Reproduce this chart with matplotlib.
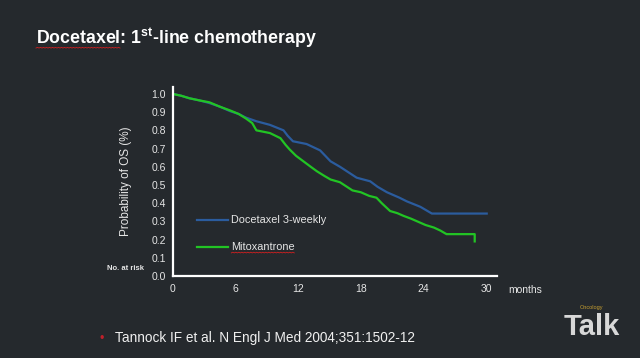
import matplotlib
matplotlib.use("Agg")
import matplotlib.pyplot as plt
import numpy as np

plt.rcParams["mathtext.fontset"] = "custom"
plt.rcParams["mathtext.rm"] = "Liberation Sans"
plt.rcParams["mathtext.bf"] = "Liberation Sans:bold"

# ---- data ----
doc_t = [0, 0.8, 1.6, 2.5, 3.5, 4.5, 5.5, 6.3, 7.0, 8.0, 9.3, 10.6, 11.0, 11.5, 12.8,
         14.1, 15.1, 16.0, 16.8, 17.6, 18.9, 19.6, 20.5, 21.7, 22.4, 23.7, 24.8, 30.05]
doc_s = [1.0, 0.99, 0.976, 0.965, 0.95, 0.93, 0.905, 0.89, 0.87, 0.85, 0.83, 0.80, 0.77,
         0.74, 0.725, 0.69, 0.63, 0.60, 0.57, 0.54, 0.52, 0.49, 0.46, 0.43, 0.41, 0.38,
         0.343, 0.343]

mit_t = [0, 0.8, 1.6, 2.5, 3.5, 4.5, 5.5, 6.3, 7.0, 7.6, 8.0, 9.3, 10.3, 10.8, 11.2,
         11.8, 12.5, 13.2, 13.8, 14.5, 15.1, 16.0, 17.2, 18.0, 18.8, 19.5, 20.0, 20.8,
         21.5, 22.1, 22.8, 23.4, 24.2, 25.0, 25.6, 26.2, 28.9, 28.9]
mit_s = [1.0, 0.99, 0.976, 0.965, 0.954, 0.93, 0.909, 0.89, 0.865, 0.84, 0.80, 0.785,
         0.757, 0.72, 0.694, 0.66, 0.63, 0.60, 0.575, 0.55, 0.53, 0.515, 0.47, 0.46,
         0.44, 0.43, 0.40, 0.357, 0.345, 0.33, 0.315, 0.30, 0.28, 0.266, 0.25, 0.23, 0.23,
         0.19]

series_names = ["Docetaxel 3-weekly", "Mitoxantrone"]
x_ticks = [0, 6, 12, 18, 24, 30]
y_ticks = [round(0.1 * i, 1) for i in range(11)]

BG = "#25292d"
BLUE = "#2b5c9e"
GREEN = "#22c424"
TXT = "#e6e6e6"
FONT = "Liberation Sans"

fig = plt.figure(figsize=(6.4, 3.58), dpi=100, facecolor=BG)
ax = fig.add_axes([0.270, 0.229, 0.506, 0.529])
ax.set_facecolor(BG)

ax.plot(doc_t, doc_s, color=BLUE, lw=1.6)
ax.plot(mit_t, mit_s, color=GREEN, lw=1.6)

ax.set_xlim(0, 31)
ax.set_ylim(0, 1.04)
ax.set_xticks(x_ticks)
ax.set_yticks(y_ticks)
ax.set_yticklabels([f"{v:.1f}" for v in y_ticks])
for s in ["top", "right"]:
    ax.spines[s].set_visible(False)
for s in ["left", "bottom"]:
    ax.spines[s].set_color("white")
    ax.spines[s].set_linewidth(1.6)
ax.tick_params(colors=TXT, labelsize=7.5, length=0, pad=6)
ax.tick_params(axis="y", pad=5)
for lab in ax.get_xticklabels() + ax.get_yticklabels():
    lab.set_fontfamily(FONT)
ax.set_ylabel("Probability of OS (%)", color=TXT, fontsize=8.5, fontfamily=FONT, labelpad=14)

# in-plot legend
ax.plot([2.3, 5.3], [0.31, 0.31], color=BLUE, lw=1.6)
ax.text(5.6, 0.31, series_names[0], color=TXT, fontsize=7.8, fontfamily=FONT, va="center")
ax.plot([2.3, 5.3], [0.157, 0.157], color=GREEN, lw=1.6)
mit_lab = ax.text(5.6, 0.157, series_names[1], color=TXT, fontsize=7.8, fontfamily=FONT,
                  va="center")

fig.text(107 / 640, 1 - 268 / 358, "No. at risk", color=TXT, fontsize=5.5,
         fontweight="bold", fontfamily=FONT, va="center")
fig.text(508 / 640, 1 - 290 / 358, "months", color=TXT, fontsize=7.5,
         fontfamily=FONT, va="center")

TITLE_FS = 12.8
title = fig.text(36 / 640, 1 - 38 / 358, "Docetaxel: 1$^{\\mathbf{st}}$-line chemotherapy",
                 color="white", fontsize=TITLE_FS, fontweight="bold", fontfamily=FONT,
                 va="center")

# citation
fig.text(102 / 640, 1 - 339 / 358, "\u2022", color="#c0202a", fontsize=9, va="center",
         ha="center", fontfamily=FONT)
fig.text(115 / 640, 1 - 338 / 358, "Tannock IF et al. N Engl J Med 2004;351:1502-12",
         color="#f0f0f0", fontsize=9.8, fontfamily=FONT, va="center")

# logo
fig.text(592 / 640, 1 - 327 / 358, "Talk", color="#d8d8d8", fontsize=21,
         fontweight="bold", fontfamily=FONT, va="center", ha="center")
fig.text(592 / 640, 1 - 308 / 358, "Oncology", color="#c8a030", fontsize=4,
         fontfamily=FONT, va="center", ha="center")

# red spell-check squiggles
fig.canvas.draw()
r = fig.canvas.get_renderer()
tmp = fig.text(36 / 640, 0.5, "Docetaxel", fontsize=TITLE_FS, fontweight="bold",
               fontfamily=FONT)
bb_word = tmp.get_window_extent(r)
tmp.remove()
bb_tb = title.get_window_extent(r)
bb_mit = mit_lab.get_window_extent(r)
for x0, x1, y0 in ((bb_word.x0, bb_word.x1, bb_tb.y0 + 2.5),
                   (bb_mit.x0, bb_mit.x1, bb_mit.y0)):
    xs = np.arange(x0, x1, 1.5)
    ys = y0 - 0.5 + 0.7 * (np.arange(len(xs)) % 2)
    fig.add_artist(plt.Line2D(xs / fig.bbox.width, ys / fig.bbox.height,
                              color="#d02020", lw=0.6, transform=fig.transFigure))

fig.savefig("out.png", dpi=100, facecolor=BG)
